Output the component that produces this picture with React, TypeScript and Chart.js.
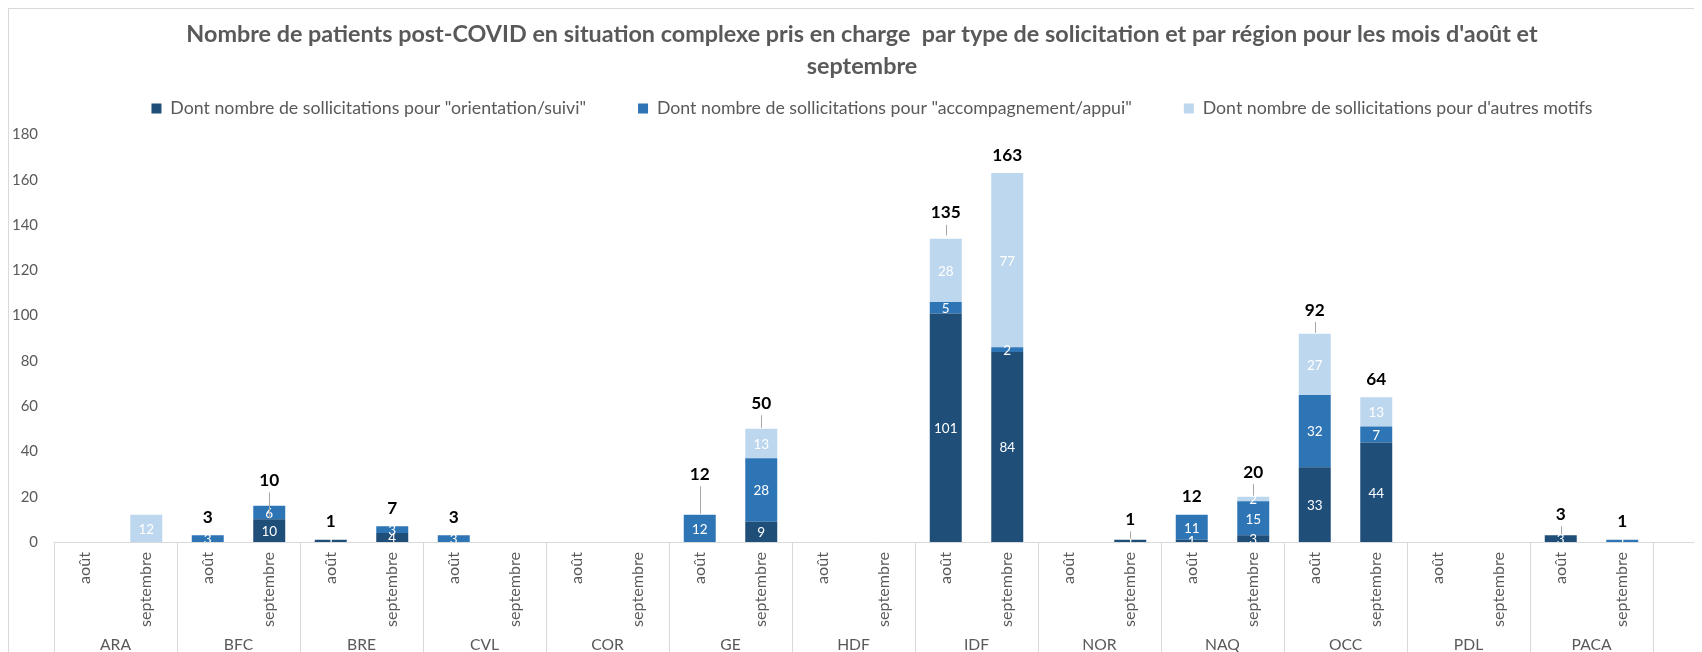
import { useEffect, useRef } from 'react';
import { Chart, registerables } from 'chart.js';

Chart.register(...registerables);

// ---------- data ----------
const regions = ['ARA', 'BFC', 'BRE', 'CVL', 'COR', 'GE', 'HDF', 'IDF', 'NOR', 'NAQ', 'OCC', 'PDL', 'PACA'];
const months = ['août', 'septembre'];
const seriesNames = [
  'Dont nombre de sollicitations pour "orientation/suivi"',
  'Dont nombre de sollicitations pour "accompagnement/appui"',
  "Dont nombre de sollicitations pour d'autres motifs",
];
// one value per bar: region order, août then septembre
const orientationSuivi = [0, 0, 0, 10, 1, 4, 0, 0, 0, 0, 0, 9, 0, 0, 101, 84, 0, 1, 1, 3, 33, 44, 0, 0, 3, 0];
const accompagnementAppui = [0, 0, 3, 6, 0, 3, 3, 0, 0, 0, 12, 28, 0, 0, 5, 2, 0, 0, 11, 15, 32, 7, 0, 0, 0, 1];
const autresMotifs = [0, 12, 0, 0, 0, 0, 0, 0, 0, 0, 0, 13, 0, 0, 28, 77, 0, 0, 0, 2, 27, 13, 0, 0, 0, 0];
const totalLabels: (number | null)[] = [
  null, null, 3, 10, 1, 7, 3, null, null, null, 12, 50, null, null, 135, 163, null, 1, 12, 20, 92, 64, null, null, 3, 1,
];
const yMin = 0;
const yMax = 180;
const yStep = 20;
const titleLines = [
  "Nombre de patients post-COVID en situation complexe pris en charge  par type de solicitation et par région pour les mois d'août et",
  'septembre',
];

// ---------- style ----------
const seriesColors = ['#1f4e79', '#2e75b6', '#bdd7ee'];
const W = 1708;
const H = 660;
const GRID = '#d9d9d9';
const TEXT = '#595959';
const FAMILY = 'Lato';
const CHART_LEFT = 46;
const CHART_RIGHT = 1645;
const CHART_TOP = 126.6;
const AXIS_HEIGHT = 126;
const LEGEND_CY = 100.5;
const LEGEND_PAD = 52;
const LEGEND_DX = 10;
const TITLE_TOP = 10.5;
const TITLE_LH = 32;
const totalPlacement = {
  lift: 18,
  custom: { 3: 39, 10: 40.6, 11: 25.7, 14: 23.6, 17: 20.4, 19: 24.5, 20: 23.8, 24: 21 } as Record<number, number>,
};

function fitSize(text: string, weight: string, target: number) {
  const ctx = document.createElement('canvas').getContext('2d')!;
  ctx.font = `${weight} 100px ${FAMILY}`;
  return (100 * target) / ctx.measureText(text).width;
}

export default function App() {
  const ref = useRef<HTMLCanvasElement>(null);

  useEffect(() => {
    document.documentElement.style.overflow = 'hidden';
    document.body.style.overflow = 'hidden';

    const titleSize = fitSize(titleLines[0], 'bold', 1352);
    const legendSize = fitSize(seriesNames[0], 'normal', 416);
    const tickSize = fitSize('180', 'normal', 26);
    const totalSize = fitSize('163', 'bold', 30);
    const segSize = fitSize('101', 'normal', 23.5);
    const monthSize = fitSize('septembre', 'normal', 75);
    const regionSize = fitSize('PACA', 'normal', 40);

    const titlePadBottom = LEGEND_CY - LEGEND_PAD - legendSize / 2 - TITLE_TOP - 2 * TITLE_LH;
    const legendExtra = CHART_TOP - (LEGEND_CY + legendSize / 2 + 10);

    const labels = regions.flatMap(() => months);
    const seriesData = [orientationSuivi, accompagnementAppui, autresMotifs];

    const decor = {
      id: 'excelDecor',
      beforeLayout(chart: any) {
        const lg = chart.legend;
        if (lg && !lg._patched) {
          const f = lg.fit.bind(lg);
          lg.fit = function () {
            f();
            this.height += legendExtra;
          };
          lg._patched = true;
        }
      },
      afterLayout(chart: any) {
        const lg = chart.legend;
        if (lg) {
          lg.left += LEGEND_DX;
          lg.right += LEGEND_DX;
        }
      },
      beforeDraw(chart: any) {
        const ctx = chart.ctx;
        ctx.save();
        ctx.strokeStyle = GRID;
        ctx.lineWidth = 1;
        ctx.strokeRect(0.5, 0.5, chart.width - 1, chart.height - 1);
        ctx.restore();
      },
      afterDatasetsDraw(chart: any) {
        const ctx = chart.ctx;
        const yScale = chart.scales.y;
        const xScale = chart.scales.x;
        ctx.save();
        ctx.textAlign = 'center';
        ctx.textBaseline = 'middle';
        ctx.font = `normal ${segSize}px ${FAMILY}`;
        ctx.fillStyle = '#ffffff';
        seriesData.forEach((arr, d) => {
          const meta = chart.getDatasetMeta(d);
          meta.data.forEach((el: any, i: number) => {
            const v = arr[i];
            if (!v) return;
            ctx.fillText(String(v), el.x, (el.y + el.base) / 2 + 1);
          });
        });
        ctx.font = `bold ${totalSize}px ${FAMILY}`;
        totalLabels.forEach((t, i) => {
          if (t == null) return;
          const x = xScale.getPixelForValue(i);
          const yp = yScale.getPixelForValue(t);
          const lift = totalPlacement.custom[i] ?? totalPlacement.lift;
          const ly = yp - lift;
          if (totalPlacement.custom[i] != null) {
            ctx.strokeStyle = '#a6a6a6';
            ctx.lineWidth = 1;
            ctx.beginPath();
            ctx.moveTo(Math.round(x) + 0.5, ly + 12);
            ctx.lineTo(Math.round(x) + 0.5, yp - 1);
            ctx.stroke();
          }
          ctx.fillStyle = '#000000';
          ctx.fillText(String(t), x, ly);
        });
        ctx.restore();
      },
      afterDraw(chart: any) {
        const ctx = chart.ctx;
        const xScale = chart.scales.x;
        const area = chart.chartArea;
        const axisY = Math.round(area.bottom) + 0.5;
        const slot = (xScale.right - xScale.left) / labels.length;
        ctx.save();
        ctx.strokeStyle = GRID;
        ctx.lineWidth = 1;
        ctx.beginPath();
        ctx.moveTo(xScale.left, axisY);
        ctx.lineTo(W - 21, axisY);
        for (let g = 0; g <= regions.length; g++) {
          const x = Math.round(xScale.left + g * months.length * slot) + 0.5;
          ctx.moveTo(x, axisY);
          ctx.lineTo(x, chart.height);
        }
        ctx.stroke();
        ctx.fillStyle = TEXT;
        ctx.font = `normal ${regionSize}px ${FAMILY}`;
        ctx.textAlign = 'center';
        ctx.textBaseline = 'middle';
        regions.forEach((r, g) => {
          const x = (xScale.getPixelForValue(2 * g) + xScale.getPixelForValue(2 * g + 1)) / 2;
          ctx.fillText(r, x, 637);
        });
        ctx.restore();
      },
    };

    const chart = new Chart(ref.current!, {
      type: 'bar',
      data: {
        labels,
        datasets: seriesData.map((arr, d) => ({
          label: seriesNames[d],
          data: arr,
          backgroundColor: seriesColors[d],
          borderWidth: 0,
          barPercentage: 0.52,
          categoryPercentage: 1,
          yAxisID: 'y',
        })),
      },
      options: {
        responsive: false,
        animation: false,
        events: [],
        layout: { padding: 0 },
        plugins: {
          title: {
            display: true,
            text: titleLines,
            color: TEXT,
            font: { family: FAMILY, size: titleSize, weight: 'bold', lineHeight: TITLE_LH / titleSize },
            padding: { top: TITLE_TOP, bottom: titlePadBottom },
          },
          legend: {
            display: true,
            position: 'top',
            align: 'center',
            labels: {
              color: TEXT,
              boxWidth: 10,
              boxHeight: 10,
              padding: LEGEND_PAD,
              font: { family: FAMILY, size: legendSize },
            },
          },
          tooltip: { enabled: false },
        },
        scales: {
          x: {
            stacked: true,
            grid: { display: false, drawTicks: false },
            border: { display: false },
            ticks: {
              autoSkip: false,
              maxRotation: 90,
              minRotation: 90,
              padding: 10,
              color: TEXT,
              font: { family: FAMILY, size: monthSize },
            },
            afterFit(s: any) {
              s.height = AXIS_HEIGHT;
            },
          },
          y: {
            stacked: true,
            min: yMin,
            max: yMax,
            grid: { display: false, drawTicks: false },
            border: { display: false },
            ticks: {
              stepSize: yStep,
              padding: 16,
              color: TEXT,
              font: { family: FAMILY, size: tickSize },
            },
            afterFit(s: any) {
              s.width = CHART_LEFT;
            },
          },
          yR: {
            type: 'linear',
            position: 'right',
            grid: { display: false, drawTicks: false },
            border: { display: false },
            ticks: { display: false },
            afterFit(s: any) {
              s.width = W - CHART_RIGHT;
            },
          },
        },
      } as any,
      plugins: [decor],
    });

    return () => chart.destroy();
  }, []);

  return <canvas ref={ref} width={W} height={H} style={{ display: 'block' }} />;
}
